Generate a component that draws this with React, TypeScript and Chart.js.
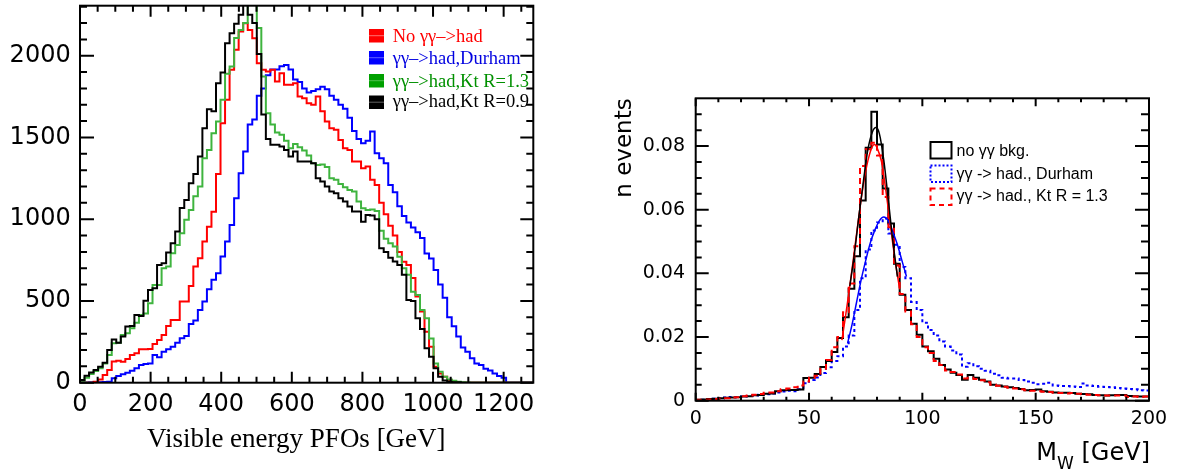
import React, { useEffect, useRef } from 'react';
import { Chart, registerables } from 'chart.js';

Chart.register(...registerables);

// ================= Left panel: visible energy of PFOs =================
const EVIS_BIN_WIDTH = 12.84; // GeV per bin
const EVIS_X_MAX = 1284;
const EVIS_Y_MAX = 2306;
const EVIS_X_TICKS = [0, 200, 400, 600, 800, 1000, 1200];
const EVIS_Y_TICKS = [0, 500, 1000, 1500, 2000];

const EVIS_NO_GG = [
  0, 0, 0, 6, 20, 47, 78, 129, 135, 128, 145, 169, 180, 204, 204, 206, 237, 261, 292, 347,
  384, 384, 496, 496, 592, 710, 761, 863, 954, 1046, 1277, 1587, 1730, 1914, 2036, 2148, 2199, 2158, 2107, 1954,
  1914, 1904, 1914, 1842, 1893, 1822, 1822, 1832, 1750, 1740, 1710, 1700, 1750, 1660, 1598, 1557, 1547, 1485, 1434, 1424,
  1353, 1353, 1312, 1322, 1241, 1210, 1100, 1030, 960, 900, 800, 740, 720, 640, 527, 435, 312, 220, 98, 57,
  37, 16, 8, 4, 0, 0, 0, 0, 0, 0, 0, 0, 0, 0, 0, 0, 0, 0, 0, 0,
];
const EVIS_DURHAM = [
  0, 0, 1, 2, 3, 4, 6, 27, 41, 51, 61, 73, 88, 108, 114, 118, 169, 155, 190, 204,
  220, 245, 272, 286, 359, 380, 445, 496, 572, 629, 670, 772, 863, 965, 1128, 1281, 1414, 1580, 1610, 1755,
  1800, 1880, 1915, 1915, 1935, 1944, 1915, 1855, 1840, 1800, 1775, 1785, 1795, 1810, 1795, 1755, 1730, 1700, 1675, 1620,
  1540, 1490, 1465, 1480, 1536, 1404, 1373, 1342, 1210, 1165, 1080, 1020, 980, 950, 920, 885, 790, 760, 690, 600,
  520, 400, 345, 282, 215, 190, 149, 118, 108, 85, 74, 57, 41, 30, 0, 0, 0, 0, 0, 0,
];
const EVIS_KT13 = [
  12, 31, 53, 71, 88, 118, 169, 241, 245, 292, 302, 333, 367, 414, 424, 486, 598, 598, 700, 710,
  792, 843, 914, 996, 1057, 1140, 1200, 1373, 1424, 1526, 1597, 1730, 1890, 1934, 2108, 2158, 2200, 2340, 2340, 2169,
  1873, 1648, 1580, 1530, 1516, 1480, 1434, 1460, 1440, 1420, 1390, 1342, 1332, 1335, 1320, 1251, 1241, 1215, 1195, 1179,
  1170, 1108, 1067, 1057, 1060, 1050, 930, 880, 853, 833, 770, 700, 660, 557, 537, 445, 394, 271, 118, 67,
  37, 20, 12, 6, 3, 1, 0, 0, 0, 0, 0, 0, 0, 0, 0, 0, 0, 0, 0, 0,
];
const EVIS_KT09 = [
  16, 43, 63, 78, 98, 122, 200, 265, 245, 282, 343, 347, 414, 408, 502, 567, 577, 720, 730, 796,
  853, 925, 1068, 1118, 1220, 1277, 1383, 1557, 1673, 1660, 1832, 1897, 2077, 2138, 2196, 2250, 2340, 2250, 2200, 2010,
  1640, 1490, 1455, 1455, 1445, 1424, 1383, 1414, 1353, 1353, 1353, 1342, 1251, 1230, 1200, 1169, 1159, 1128, 1108, 1077,
  1047, 1047, 985, 1026, 1022, 1000, 822, 800, 765, 741, 720, 660, 506, 500, 394, 329, 210, 159, 88, 37,
  14, 6, 3, 2, 0, 0, 0, 0, 0, 0, 0, 0, 0, 0, 0, 0, 0, 0, 0, 0,
];

const EVIS_LEGEND = ['No γγ–>had', 'γγ–>had,Durham', 'γγ–>had,Kt R=1.3', 'γγ–>had,Kt R=0.9'];
const EVIS_X_TITLE = 'Visible energy PFOs [GeV]';

// ================= Right panel: reconstructed W mass =================
const MW_BIN_WIDTH = 2.5; // GeV per bin
const MW_X_MAX = 200;
const MW_Y_MAX = 0.095;
const MW_X_TICKS = [0, 50, 100, 150, 200];
const MW_Y_TICKS = [0, 0.02, 0.04, 0.06, 0.08];

const MW_NO_BKG = [
  0.0003, 0.0004, 0.0005, 0.0006, 0.0008, 0.0009, 0.0010, 0.0011, 0.0013, 0.0014,
  0.0017, 0.0018, 0.0022, 0.0023, 0.0030, 0.0033, 0.0034, 0.0034, 0.0035, 0.0071,
  0.0072, 0.0084, 0.0106, 0.0125, 0.0153, 0.0197, 0.0262, 0.0352, 0.0454, 0.0629,
  0.0795, 0.0908, 0.0805, 0.0667, 0.0557, 0.0430, 0.0333, 0.0285, 0.0242, 0.0207,
  0.0170, 0.0155, 0.0132, 0.0112, 0.0098, 0.0088, 0.0081, 0.0066, 0.0081, 0.0072,
  0.0066, 0.0060, 0.0050, 0.0048, 0.0045, 0.0042, 0.0040, 0.0037, 0.0033, 0.0034,
  0.0035, 0.0030, 0.0028, 0.0026, 0.0025, 0.0025, 0.0024, 0.0022, 0.0021, 0.0020,
  0.0018, 0.0017, 0.0016, 0.0017, 0.0018, 0.0018, 0.0015, 0.0014, 0.0013, 0.0013,
];
const MW_DURHAM = [
  0.0002, 0.0003, 0.0004, 0.0006, 0.0008, 0.0010, 0.0012, 0.0011, 0.0013, 0.0015,
  0.0016, 0.0019, 0.0020, 0.0023, 0.0026, 0.0029, 0.0031, 0.0030, 0.0036, 0.0055,
  0.0065, 0.0073, 0.0087, 0.0105, 0.0125, 0.0140, 0.0170, 0.0205, 0.0285, 0.0385,
  0.0475, 0.0535, 0.0560, 0.0572, 0.0525, 0.0490, 0.0420, 0.0385, 0.0310, 0.0285,
  0.0245, 0.0222, 0.0205, 0.0186, 0.0170, 0.0158, 0.0145, 0.0107, 0.0118, 0.0108,
  0.0100, 0.0094, 0.0085, 0.0080, 0.0072, 0.0070, 0.0070, 0.0065, 0.0060, 0.0056,
  0.0052, 0.0053, 0.0056, 0.0048, 0.0046, 0.0046, 0.0045, 0.0043, 0.0054, 0.0048,
  0.0046, 0.0044, 0.0043, 0.0042, 0.0040, 0.0038, 0.0037, 0.0036, 0.0033, 0.0032,
];
const MW_KT13 = [
  0.0003, 0.0003, 0.0004, 0.0005, 0.0007, 0.0008, 0.0010, 0.0011, 0.0014, 0.0016,
  0.0019, 0.0021, 0.0025, 0.0026, 0.0030, 0.0036, 0.0038, 0.0042, 0.0048, 0.0060,
  0.0072, 0.0078, 0.0100, 0.0128, 0.0168, 0.0200, 0.0278, 0.0368, 0.0485, 0.0737,
  0.0790, 0.0810, 0.0770, 0.0640, 0.0545, 0.0425, 0.0335, 0.0280, 0.0240, 0.0200,
  0.0168, 0.0150, 0.0125, 0.0112, 0.0095, 0.0090, 0.0082, 0.0070, 0.0072, 0.0068,
  0.0064, 0.0058, 0.0050, 0.0047, 0.0044, 0.0041, 0.0038, 0.0036, 0.0033, 0.0031,
  0.0030, 0.0028, 0.0027, 0.0025, 0.0024, 0.0023, 0.0024, 0.0022, 0.0020, 0.0019,
  0.0018, 0.0017, 0.0016, 0.0016, 0.0016, 0.0016, 0.0012, 0.0013, 0.0012, 0.0013,
];

// fitted peak shapes
const FIT_NO_BKG_X = [68, 70, 72, 74, 76, 78, 79.5, 81, 83, 85, 87, 89];
const FIT_NO_BKG_Y = [0.036, 0.046, 0.058, 0.069, 0.079, 0.0845, 0.0858, 0.0840, 0.0755, 0.063, 0.050, 0.039];
const FIT_KT13_X = [64.5, 66, 68, 70, 72, 74, 76, 78, 79, 80, 82, 84, 86, 88, 90];
const FIT_KT13_Y = [0.019, 0.026, 0.036, 0.047, 0.058, 0.068, 0.0755, 0.080, 0.0805, 0.0795, 0.075, 0.0655, 0.0545, 0.044, 0.035];
const FIT_DURHAM_X = [67, 69, 71, 73, 75, 77, 79, 81, 83, 85, 87, 89, 91, 93];
const FIT_DURHAM_Y = [0.018, 0.024, 0.031, 0.038, 0.044, 0.0495, 0.0535, 0.0565, 0.0577, 0.0565, 0.053, 0.049, 0.044, 0.039];

const MW_LEGEND = ['no γγ bkg.', 'γγ -> had., Durham', 'γγ -> had., Kt R = 1.3'];
const MW_Y_TITLE = 'n events';

// ================= helpers =================
function histPoints(values: number[], width: number) {
  const pts = values.map((v, i) => ({ x: i * width, y: v }));
  pts.push({ x: values.length * width, y: values[values.length - 1] });
  return pts;
}
function curvePoints(xs: number[], ys: number[]) {
  return xs.map((x, i) => ({ x, y: ys[i] }));
}
function range(start: number, stop: number, step: number) {
  const out: number[] = [];
  for (let v = start; v <= stop + step * 1e-6; v += step) out.push(+v.toFixed(6));
  return out;
}

interface FrameSpec {
  xMajor: number[];
  xMinor: number[];
  yMajor: number[];
  yMinor: number[];
  bottom: [number, number];
  top: [number, number];
  left: [number, number];
  right: [number, number];
  lineWidth: number;
}

function makeFramePlugin(spec: FrameSpec) {
  return {
    id: 'rootFrame',
    afterDatasetsDraw(chart: any) {
      const { ctx, chartArea: a } = chart;
      const xs = chart.scales.x;
      const ys = chart.scales.y;
      ctx.save();
      ctx.strokeStyle = '#000';
      ctx.lineWidth = spec.lineWidth;
      ctx.setLineDash([]);
      ctx.beginPath();
      const xt = (v: number, major: boolean) => {
        const p = xs.getPixelForValue(v);
        const lb = major ? spec.bottom[0] : spec.bottom[1];
        const lt = major ? spec.top[0] : spec.top[1];
        ctx.moveTo(p, a.bottom);
        ctx.lineTo(p, a.bottom - lb);
        ctx.moveTo(p, a.top);
        ctx.lineTo(p, a.top + lt);
      };
      const yt = (v: number, major: boolean) => {
        const p = ys.getPixelForValue(v);
        const ll = major ? spec.left[0] : spec.left[1];
        const lr = major ? spec.right[0] : spec.right[1];
        ctx.moveTo(a.left, p);
        ctx.lineTo(a.left + ll, p);
        ctx.moveTo(a.right, p);
        ctx.lineTo(a.right - lr, p);
      };
      spec.xMinor.forEach((v) => xt(v, false));
      spec.xMajor.forEach((v) => xt(v, true));
      spec.yMinor.forEach((v) => yt(v, false));
      spec.yMajor.forEach((v) => yt(v, true));
      ctx.stroke();
      ctx.strokeRect(a.left, a.top, a.right - a.left, a.bottom - a.top);
      ctx.restore();
    },
  };
}

function fixedAxis(size: number, horizontal: boolean) {
  return (s: any) => {
    if (horizontal) s.height = size;
    else s.width = size;
    s.paddingLeft = 0;
    s.paddingRight = 0;
    s.paddingTop = 0;
    s.paddingBottom = 0;
  };
}
function fixedTicks(values: number[]) {
  return (s: any) => {
    s.ticks = values.map((v) => ({ value: v }));
  };
}

// ================= left chart =================
function leftConfig(): any {
  const decor = {
    id: 'leftDecor',
    afterDraw(chart: any) {
      const { ctx } = chart;
      ctx.save();
      // x-axis title
      ctx.fillStyle = '#000';
      ctx.font = '27px "Liberation Serif"';
      ctx.textAlign = 'left';
      ctx.textBaseline = 'alphabetic';
      ctx.fillText(EVIS_X_TITLE, 147, 446.5);
      // legend
      const rows = [
        { box: '#ff0000', line: '#ff7070', text: '#ff0000', top: 29, base: 41.7 },
        { box: '#0000ff', line: '#6060ff', text: '#0000e0', top: 51, base: 64.3 },
        { box: '#00a000', line: '#50c050', text: '#009000', top: 74, base: 87.3 },
        { box: '#000000', line: '#606060', text: '#000000', top: 95.5, base: 107 },
      ];
      ctx.font = '18.5px "Liberation Serif"';
      rows.forEach((r, i) => {
        ctx.fillStyle = r.box;
        ctx.fillRect(369, r.top, 15, 13.5);
        ctx.fillStyle = r.line;
        ctx.fillRect(369, r.top + 6.2, 15, 1);
        ctx.fillStyle = r.text;
        ctx.fillText(EVIS_LEGEND[i], 392.7, r.base);
      });
      ctx.restore();
    },
  };
  const frame = makeFramePlugin({
    xMajor: EVIS_X_TICKS,
    xMinor: range(0, 1250, 50),
    yMajor: EVIS_Y_TICKS,
    yMinor: range(0, 2300, 100),
    bottom: [11, 6],
    top: [11, 6],
    left: [14, 7],
    right: [13, 7],
    lineWidth: 2,
  });
  const ds = (label: string, values: number[], color: string) => ({
    label,
    data: histPoints(values, EVIS_BIN_WIDTH),
    borderColor: color,
    borderWidth: 2,
    stepped: true,
    pointRadius: 0,
    fill: false,
  });
  return {
    type: 'line',
    data: {
      datasets: [
        ds(EVIS_LEGEND[3], EVIS_KT09, '#000000'),
        ds(EVIS_LEGEND[2], EVIS_KT13, '#3fb43f'),
        ds(EVIS_LEGEND[0], EVIS_NO_GG, '#ff0000'),
        ds(EVIS_LEGEND[1], EVIS_DURHAM, '#0000ff'),
      ],
    },
    options: {
      animation: false,
      responsive: true,
      maintainAspectRatio: false,
      events: [],
      layout: { padding: { left: 0, top: 5.7, right: 46.7, bottom: 0 } },
      plugins: { legend: { display: false }, tooltip: { enabled: false } },
      scales: {
        x: {
          type: 'linear',
          min: 0,
          max: EVIS_X_MAX,
          afterBuildTicks: fixedTicks(EVIS_X_TICKS),
          afterFit: fixedAxis(91.3, true),
          grid: { display: false, drawTicks: false },
          border: { display: false },
          ticks: {
            autoSkip: false,
            maxRotation: 0,
            padding: 8,
            color: '#000',
            font: { family: 'DejaVu Sans', size: 24 },
            callback: (v: any) => String(v),
          },
        },
        y: {
          type: 'linear',
          min: 0,
          max: EVIS_Y_MAX,
          afterBuildTicks: fixedTicks(EVIS_Y_TICKS),
          afterFit: fixedAxis(80, false),
          grid: { display: false, drawTicks: false },
          border: { display: false },
          ticks: {
            autoSkip: false,
            padding: 9.3,
            color: '#000',
            font: { family: 'DejaVu Sans', size: 24 },
            callback: (v: any) => String(v),
          },
        },
      },
    },
    plugins: [frame, decor],
  };
}

// ================= right chart =================
const RIGHT_OFFSET = 580;

function rightConfig(): any {
  const decor = {
    id: 'rightDecor',
    afterDraw(chart: any) {
      const { ctx } = chart;
      const ox = RIGHT_OFFSET;
      ctx.save();
      ctx.fillStyle = '#000';
      // y title, rotated
      ctx.font = '23px "DejaVu Sans"';
      ctx.translate(631 - ox, 148);
      ctx.rotate(-Math.PI / 2);
      ctx.textAlign = 'center';
      ctx.textBaseline = 'alphabetic';
      ctx.fillText(MW_Y_TITLE, 0, 0);
      ctx.restore();

      ctx.save();
      ctx.fillStyle = '#000';
      ctx.textBaseline = 'alphabetic';
      ctx.textAlign = 'left';
      // x title M_W [GeV], right aligned
      const bigFont = '24px "DejaVu Sans"';
      const subFont = '17px "DejaVu Sans"';
      ctx.font = bigFont;
      const wM = ctx.measureText('M').width;
      const wRest = ctx.measureText(' [GeV]').width;
      ctx.font = subFont;
      const wW = ctx.measureText('W').width;
      const right = 1150 - ox;
      const x0 = right - wM - wW - wRest;
      ctx.font = bigFont;
      ctx.fillText('M', x0, 460);
      ctx.font = subFont;
      ctx.fillText('W', x0 + wM, 469);
      ctx.font = bigFont;
      ctx.fillText(' [GeV]', x0 + wM + wW, 460);

      // legend
      const rows = [
        { color: '#000000', dash: [] as number[], top: 142, base: 156 },
        { color: '#0000ff', dash: [2, 2], top: 165.5, base: 178.5 },
        { color: '#ff0000', dash: [5, 4], top: 188.5, base: 201 },
      ];
      ctx.font = '16px "Liberation Sans"';
      rows.forEach((r, i) => {
        ctx.strokeStyle = r.color;
        ctx.lineWidth = 2;
        ctx.setLineDash(r.dash);
        ctx.strokeRect(930.5 - ox, r.top, 21, 16.5);
        ctx.setLineDash([]);
        ctx.fillStyle = '#000';
        ctx.fillText(MW_LEGEND[i], 956.5 - ox, r.base);
      });
      ctx.restore();
    },
  };
  const frame = makeFramePlugin({
    xMajor: MW_X_TICKS,
    xMinor: range(0, 200, 10),
    yMajor: MW_Y_TICKS,
    yMinor: range(0, 0.09, 0.005),
    bottom: [8, 4],
    top: [8, 4],
    left: [13, 6],
    right: [14, 8],
    lineWidth: 2,
  });
  const hist = (label: string, values: number[], color: string, dash: number[]) => ({
    label,
    data: histPoints(values, MW_BIN_WIDTH),
    borderColor: color,
    borderWidth: 2,
    borderDash: dash,
    stepped: true,
    pointRadius: 0,
    fill: false,
  });
  const fit = (label: string, xs: number[], ys: number[], color: string) => ({
    label,
    data: curvePoints(xs, ys),
    borderColor: color,
    borderWidth: 1.5,
    cubicInterpolationMode: 'monotone',
    pointRadius: 0,
    fill: false,
  });
  return {
    type: 'line',
    data: {
      datasets: [
        fit('fit ' + MW_LEGEND[0], FIT_NO_BKG_X, FIT_NO_BKG_Y, '#000000'),
        fit('fit ' + MW_LEGEND[2], FIT_KT13_X, FIT_KT13_Y, '#ff0000'),
        fit('fit ' + MW_LEGEND[1], FIT_DURHAM_X, FIT_DURHAM_Y, '#0000ff'),
        hist(MW_LEGEND[2], MW_KT13, '#ff0000', [6, 4]),
        hist(MW_LEGEND[0], MW_NO_BKG, '#000000', []),
        hist(MW_LEGEND[1], MW_DURHAM, '#0000ff', [3, 3]),
      ],
    },
    options: {
      animation: false,
      responsive: true,
      maintainAspectRatio: false,
      events: [],
      layout: { padding: { left: 0, top: 98.3, right: 28, bottom: 0 } },
      plugins: { legend: { display: false }, tooltip: { enabled: false } },
      scales: {
        x: {
          type: 'linear',
          min: 0,
          max: MW_X_MAX,
          afterBuildTicks: fixedTicks(MW_X_TICKS),
          afterFit: fixedAxis(73.3, true),
          grid: { display: false, drawTicks: false },
          border: { display: false },
          ticks: {
            autoSkip: false,
            maxRotation: 0,
            padding: 7,
            color: '#000',
            font: { family: 'DejaVu Sans', size: 19 },
            callback: (v: any) => String(v),
          },
        },
        y: {
          type: 'linear',
          min: 0,
          max: MW_Y_MAX,
          afterBuildTicks: fixedTicks(MW_Y_TICKS),
          afterFit: fixedAxis(115.7, false),
          grid: { display: false, drawTicks: false },
          border: { display: false },
          ticks: {
            autoSkip: false,
            padding: 10.7,
            color: '#000',
            font: { family: 'DejaVu Sans', size: 19 },
            callback: (v: any) => (Number(v) === 0 ? '0' : Number(v).toFixed(2)),
          },
        },
      },
    },
    plugins: [frame, decor],
  };
}

export default function App() {
  const leftRef = useRef<HTMLCanvasElement>(null);
  const rightRef = useRef<HTMLCanvasElement>(null);

  useEffect(() => {
    document.body.style.margin = '0';
    const c1 = new Chart(leftRef.current as HTMLCanvasElement, leftConfig());
    const c2 = new Chart(rightRef.current as HTMLCanvasElement, rightConfig());
    return () => {
      c1.destroy();
      c2.destroy();
    };
  }, []);

  return (
    <div style={{ position: 'fixed', left: 0, top: 0, width: 1177, height: 474, background: '#fff', overflow: 'hidden' }}>
      <div style={{ position: 'absolute', left: 0, top: 0, width: 580, height: 474 }}>
        <canvas ref={leftRef} />
      </div>
      <div style={{ position: 'absolute', left: RIGHT_OFFSET, top: 0, width: 597, height: 474 }}>
        <canvas ref={rightRef} />
      </div>
    </div>
  );
}
